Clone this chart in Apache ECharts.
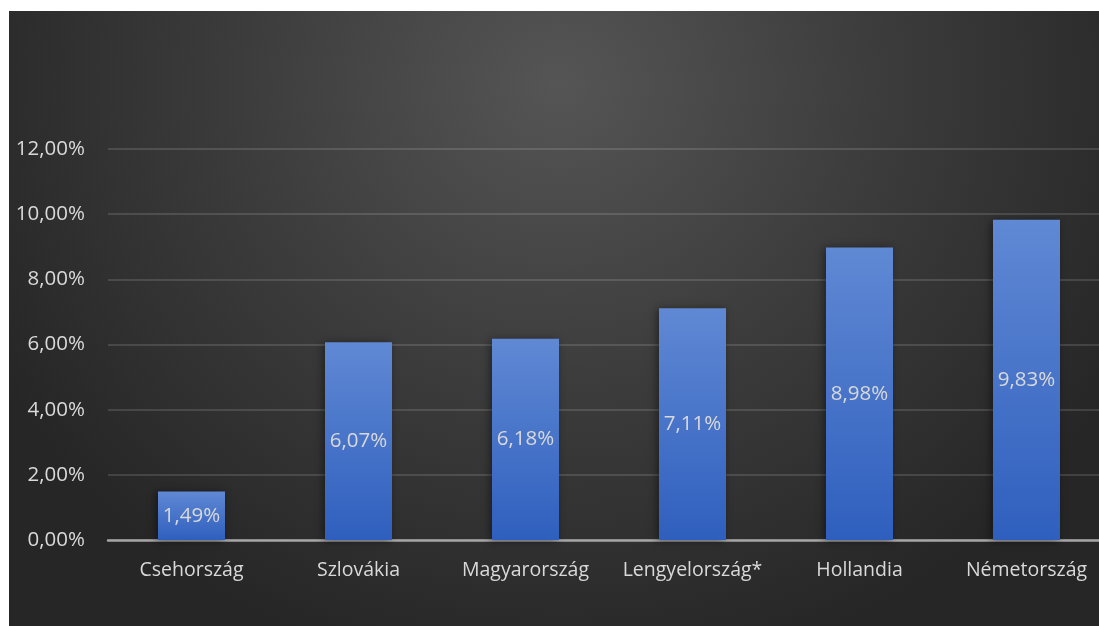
<!DOCTYPE html>
<html>
<head>
<meta charset="utf-8">
<script src="https://cdn.jsdelivr.net/npm/echarts@6/dist/echarts.min.js"></script>
<style>
  html, body { margin: 0; padding: 0; background: #ffffff; width: 1099px; height: 626px; overflow: hidden; position: relative; }
  #chart {
    position: absolute; left: 9px; top: 11px; width: 1101px; height: 615px;
    background: radial-gradient(ellipse 640px 600px at 50% 12%, #555555 0%, #3c3c3c 50%, #262626 100%);
  }
</style>
</head>
<body>
<div id="chart"></div>
<script>
// Országok és az arányok (%)
const categories = ['Csehország', 'Szlovákia', 'Magyarország', 'Lengyelország*', 'Hollandia', 'Németország'];
const values = [1.49, 6.07, 6.18, 7.11, 8.98, 9.83];
const yTicks = [0, 2, 4, 6, 8, 10, 12];

const fmt = v => v.toFixed(2).replace('.', ',') + '%';
const FONT = '"Open Sans", "Noto Sans", sans-serif';

const chart = echarts.init(document.getElementById('chart'), null, { renderer: 'canvas' });
chart.setOption({
  backgroundColor: 'transparent',
  animation: false,
  grid: { left: 99, top: 138, bottom: 86, right: 0, containLabel: false },
  xAxis: {
    type: 'category',
    data: categories,
    axisLine: { lineStyle: { color: '#a6a6a6', width: 2.5 } },
    axisTick: { show: false },
    axisLabel: { color: '#d9d9d9', fontSize: 19.5, fontFamily: FONT, margin: 20, interval: 0, hideOverlap: false }
  },
  yAxis: {
    type: 'value',
    min: yTicks[0],
    max: yTicks[yTicks.length - 1],
    interval: 2,
    axisLine: { show: false },
    axisTick: { show: false },
    splitLine: { lineStyle: { color: 'rgba(255,255,255,0.13)', width: 2 } },
    axisLabel: { color: '#d9d9d9', fontSize: 20.5, fontFamily: FONT, margin: 23, formatter: fmt }
  },
  series: [{
    type: 'bar',
    data: values,
    barWidth: 67,
    itemStyle: {
      color: new echarts.graphic.LinearGradient(0, 0, 0, 1, [
        { offset: 0, color: '#6089d4' },
        { offset: 1, color: '#2f5fbe' }
      ]),
      shadowColor: 'rgba(0,0,0,0.45)',
      shadowBlur: 8,
      shadowOffsetX: -2,
      shadowOffsetY: 1
    },
    label: {
      show: true,
      position: 'inside',
      color: '#d9d9d9',
      fontSize: 20.5,
      fontFamily: FONT,
      formatter: p => fmt(p.value)
    }
  }]
});
</script>
</body>
</html>
